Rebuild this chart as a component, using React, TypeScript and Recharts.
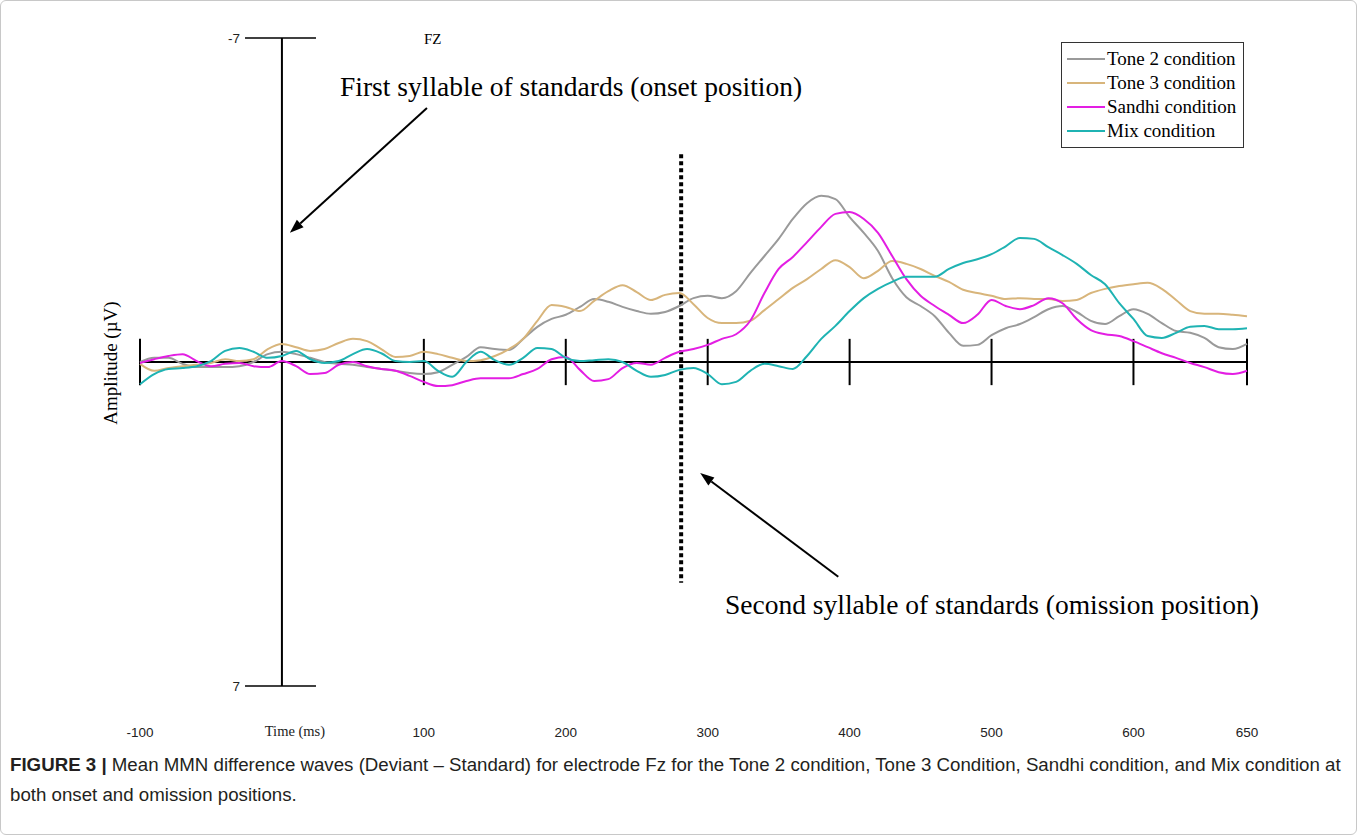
import { LineChart, Line, XAxis, YAxis, ReferenceLine, Legend } from "recharts";

// sample times (ms); the last one sits at the right end of the axis, which the figure labels "650"
const times = [
  -100, -90, -80, -70, -60, -50, -40, -30, -20, -10,
  0, 10, 20, 30, 40, 50, 60, 70, 80, 90,
  100, 110, 120, 130, 140, 150, 160, 170, 180, 190,
  200, 210, 220, 230, 240, 250, 260, 270, 280, 290,
  300, 310, 320, 330, 340, 350, 360, 370, 380, 390,
  400, 410, 420, 430, 440, 450, 460, 470, 480, 490,
  500, 510, 520, 530, 540, 550, 560, 570, 580, 590,
  600, 610, 620, 630, 640, 650, 660, 670, 680,
];

// amplitudes in µV (negative plotted upwards)
const tone2 = [
  0.0, -0.09, -0.09, 0.04, 0.11, 0.11, 0.11, 0.09, 0.0, -0.17,
  -0.22, -0.17, -0.09, 0.0, 0.04, 0.06, 0.11, 0.15, 0.19, 0.24,
  0.26, 0.22, 0.06, -0.11, -0.32, -0.28, -0.26, -0.5, -0.76, -0.93,
  -1.02, -1.19, -1.36, -1.3, -1.19, -1.1, -1.04, -1.08, -1.21, -1.38,
  -1.43, -1.38, -1.53, -1.92, -2.29, -2.66, -3.09, -3.43, -3.59, -3.52,
  -3.13, -2.79, -2.4, -1.81, -1.4, -1.21, -0.99, -0.63, -0.35, -0.37,
  -0.58, -0.73, -0.82, -0.97, -1.14, -1.21, -1.08, -0.89, -0.82, -0.99,
  -1.14, -1.04, -0.84, -0.67, -0.63, -0.52, -0.32, -0.28, -0.39,
];

const tone3 = [
  0.04, 0.19, 0.13, 0.09, 0.06, 0.02, -0.06, -0.02, -0.06, -0.28,
  -0.39, -0.32, -0.24, -0.28, -0.41, -0.5, -0.45, -0.28, -0.11, -0.13,
  -0.22, -0.17, -0.09, -0.02, -0.04, -0.13, -0.28, -0.5, -0.89, -1.23,
  -1.19, -1.1, -1.32, -1.53, -1.66, -1.51, -1.34, -1.45, -1.49, -1.25,
  -0.95, -0.84, -0.84, -0.89, -1.12, -1.36, -1.6, -1.79, -2.01, -2.2,
  -2.05, -1.81, -1.97, -2.18, -2.12, -2.01, -1.86, -1.73, -1.56, -1.49,
  -1.43, -1.36, -1.38, -1.36, -1.36, -1.32, -1.34, -1.49, -1.58, -1.64,
  -1.68, -1.71, -1.58, -1.34, -1.1, -1.04, -1.04, -1.02, -0.99,
];

const sandhi = [
  0.02, -0.06, -0.13, -0.17, -0.02, 0.09, 0.04, 0.02, 0.09, 0.11,
  -0.02, 0.09, 0.26, 0.24, 0.06, 0.0, 0.09, 0.15, 0.19, 0.3,
  0.43, 0.52, 0.5, 0.41, 0.35, 0.35, 0.35, 0.26, 0.15, -0.06,
  -0.11, 0.17, 0.41, 0.37, 0.13, 0.02, 0.06, -0.09, -0.22, -0.28,
  -0.37, -0.5, -0.6, -0.89, -1.49, -2.01, -2.27, -2.59, -2.92, -3.2,
  -3.24, -3.09, -2.79, -2.29, -1.79, -1.43, -1.21, -1.02, -0.84, -1.02,
  -1.34, -1.21, -1.14, -1.23, -1.38, -1.27, -0.93, -0.69, -0.6, -0.56,
  -0.45, -0.32, -0.19, -0.09, 0.02, 0.11, 0.22, 0.26, 0.19,
];

const mix = [
  0.48, 0.26, 0.15, 0.13, 0.09, -0.02, -0.24, -0.3, -0.22, -0.09,
  -0.13, -0.24, -0.06, 0.02, -0.02, -0.17, -0.28, -0.19, -0.02, 0.0,
  -0.02, 0.19, 0.32, 0.0, -0.22, -0.04, 0.06, -0.09, -0.3, -0.28,
  -0.09, -0.02, -0.04, -0.06, 0.0, 0.19, 0.32, 0.28, 0.17, 0.13,
  0.26, 0.48, 0.43, 0.19, 0.04, 0.09, 0.15, -0.13, -0.5, -0.78,
  -1.1, -1.38, -1.58, -1.73, -1.84, -1.84, -1.84, -2.01, -2.14, -2.22,
  -2.33, -2.5, -2.68, -2.66, -2.48, -2.31, -2.12, -1.88, -1.68, -1.27,
  -0.93, -0.56, -0.52, -0.63, -0.76, -0.78, -0.71, -0.71, -0.73,
];

const seriesNames = ["Tone 2 condition", "Tone 3 condition", "Sandhi condition", "Mix condition"];

const xTicks = [-100, 0, 100, 200, 300, 400, 500, 600, 680];
const xTickLabels = ["-100", "Time (ms)", "100", "200", "300", "400", "500", "600", "650"];
const axisMarks = [-100, 100, 200, 300, 400, 500, 600, 680];

const data = times.map((t, i) => ({
  t,
  tone2: tone2[i],
  tone3: tone3[i],
  sandhi: sandhi[i],
  mix: mix[i],
}));

const serif = '"Liberation Serif", "Times New Roman", serif';
const sans = '"Liberation Sans", Arial, sans-serif';

function Arrow(props: any) {
  const { x1, y1, x2, y2 } = props;
  const dx = x2 - x1;
  const dy = y2 - y1;
  const len = Math.sqrt(dx * dx + dy * dy) || 1;
  const ux = dx / len;
  const uy = dy / len;
  const bx = x2 - ux * 14;
  const by = y2 - uy * 14;
  const px = -uy * 5;
  const py = ux * 5;
  return (
    <g>
      <line x1={x1} y1={y1} x2={bx} y2={by} stroke="#000" strokeWidth={2} />
      <polygon points={`${x2},${y2} ${bx + px},${by + py} ${bx - px},${by - py}`} fill="#000" />
    </g>
  );
}

function TimeTick(props: any) {
  const { x, y, payload } = props;
  const idx = xTicks.indexOf(payload.value);
  const label = xTickLabels[idx] ?? String(payload.value);
  const isTime = payload.value === 0;
  return (
    <text
      x={x + (isTime ? 13 : 0)}
      y={y + 45}
      textAnchor="middle"
      dominantBaseline="middle"
      fontSize={isTime ? 14.5 : 13.5}
      fontFamily={isTime ? serif : sans}
      fill="#222"
    >
      {label}
    </text>
  );
}

function LegendBox({ payload }: any) {
  // keep the figure's order instead of Recharts' alphabetical sort
  const items = seriesNames
    .map((n) => (payload || []).find((p: any) => p.value === n))
    .filter(Boolean);
  return (
    <div
      style={{
        border: "1.5px solid #333",
        padding: "4px 4px 4px 5px",
        background: "#fff",
        fontFamily: serif,
        fontSize: 19,
        lineHeight: "24px",
      }}
    >
      {items.map((p: any) => (
        <div key={p.value} style={{ display: "flex", alignItems: "center", whiteSpace: "nowrap" }}>
          <span style={{ display: "inline-block", width: 38, height: 2, background: p.color, marginRight: 2 }} />
          <span>{p.value}</span>
        </div>
      ))}
    </div>
  );
}

export default function App() {
  return (
    <div
      style={{
        position: "absolute",
        left: 0,
        top: 0,
        width: 1355,
        height: 833,
        border: "1px solid #c8c8c8",
        borderRadius: 6,
        background: "#fff",
        overflow: "hidden",
      }}
    >
      <div style={{ position: "absolute", left: -1, top: -1 }}>
        <LineChart width={1357} height={760} data={data} margin={{ top: 38, right: 110, left: 140, bottom: 0 }}>
          <XAxis
            dataKey="t"
            type="number"
            domain={[-100, 680]}
            ticks={xTicks}
            axisLine={false}
            tickLine={false}
            tickSize={0}
            height={74}
            tick={<TimeTick />}
          />
          <YAxis hide type="number" domain={[-7, 7]} reversed />

          {/* axes drawn through the middle */}
          <ReferenceLine y={0} stroke="#000" strokeWidth={2} />
          <ReferenceLine x={0} stroke="#000" strokeWidth={2} />
          {axisMarks.map((m) => (
            <ReferenceLine
              key={m}
              segment={[
                { x: m, y: -0.5 },
                { x: m, y: 0.5 },
              ]}
              stroke="#000"
              strokeWidth={2}
            />
          ))}
          <ReferenceLine
            segment={[
              { x: -26, y: -7 },
              { x: 24, y: -7 },
            ]}
            stroke="#000"
            strokeWidth={1.5}
            label={{ value: "-7", position: "left", fill: "#222", fontSize: 13.5, fontFamily: sans }}
          />
          <ReferenceLine
            segment={[
              { x: -26, y: 7 },
              { x: 24, y: 7 },
            ]}
            stroke="#000"
            strokeWidth={1.5}
            label={{ value: "7", position: "left", fill: "#222", fontSize: 13.5, fontFamily: sans }}
          />

          {/* omission position marker */}
          <ReferenceLine
            segment={[
              { x: 281.3, y: -4.49 },
              { x: 281.3, y: 4.77 },
            ]}
            stroke="#000"
            strokeWidth={4}
            strokeDasharray="4 3"
          />

          <ReferenceLine
            segment={[
              { x: 102.2, y: -5.49 },
              { x: 5.6, y: -2.79 },
            ]}
            shape={<Arrow />}
          />
          <ReferenceLine
            segment={[
              { x: 392, y: 4.64 },
              { x: 294.7, y: 2.4 },
            ]}
            shape={<Arrow />}
          />

          <Line type="monotone" dataKey="tone2" name={seriesNames[0]} stroke="#9a9a9a" strokeWidth={2} dot={false} isAnimationActive={false} />
          <Line type="monotone" dataKey="tone3" name={seriesNames[1]} stroke="#d8b57b" strokeWidth={2} dot={false} isAnimationActive={false} />
          <Line type="monotone" dataKey="sandhi" name={seriesNames[2]} stroke="#e31ee3" strokeWidth={2} dot={false} isAnimationActive={false} />
          <Line type="monotone" dataKey="mix" name={seriesNames[3]} stroke="#1fb3b3" strokeWidth={2} dot={false} isAnimationActive={false} />

          <Legend
            layout="vertical"
            align="center"
            verticalAlign="middle"
            content={<LegendBox />}
            wrapperStyle={{ left: 1061, top: 42, width: 183, bottom: "auto", right: "auto" }}
          />
        </LineChart>
      </div>

      <div style={{ position: "absolute", left: 423, top: 30, fontFamily: serif, fontSize: 15 }}>FZ</div>
      <div
        style={{
          position: "absolute",
          left: 110,
          top: 362,
          transform: "translate(-50%, -50%) rotate(-90deg)",
          fontFamily: serif,
          fontSize: 19,
          whiteSpace: "nowrap",
        }}
      >
        Amplitude (µV)
      </div>
      <div style={{ position: "absolute", left: 339, top: 70, fontFamily: serif, fontSize: 27.5, whiteSpace: "nowrap" }}>
        First syllable of standards (onset position)
      </div>
      <div style={{ position: "absolute", left: 724, top: 588, fontFamily: serif, fontSize: 27.5, whiteSpace: "nowrap" }}>
        Second syllable of standards (omission position)
      </div>

      <div
        style={{
          position: "absolute",
          left: 9,
          top: 749,
          width: 1345,
          fontFamily: sans,
          fontSize: 18.7,
          lineHeight: "30px",
          color: "#231f20",
          whiteSpace: "nowrap",
        }}
      >
        <b>FIGURE 3 |</b> Mean MMN difference waves (Deviant – Standard) for electrode Fz for the Tone 2 condition, Tone 3 Condition, Sandhi condition, and Mix condition at
        <br />
        both onset and omission positions.
      </div>
    </div>
  );
}
